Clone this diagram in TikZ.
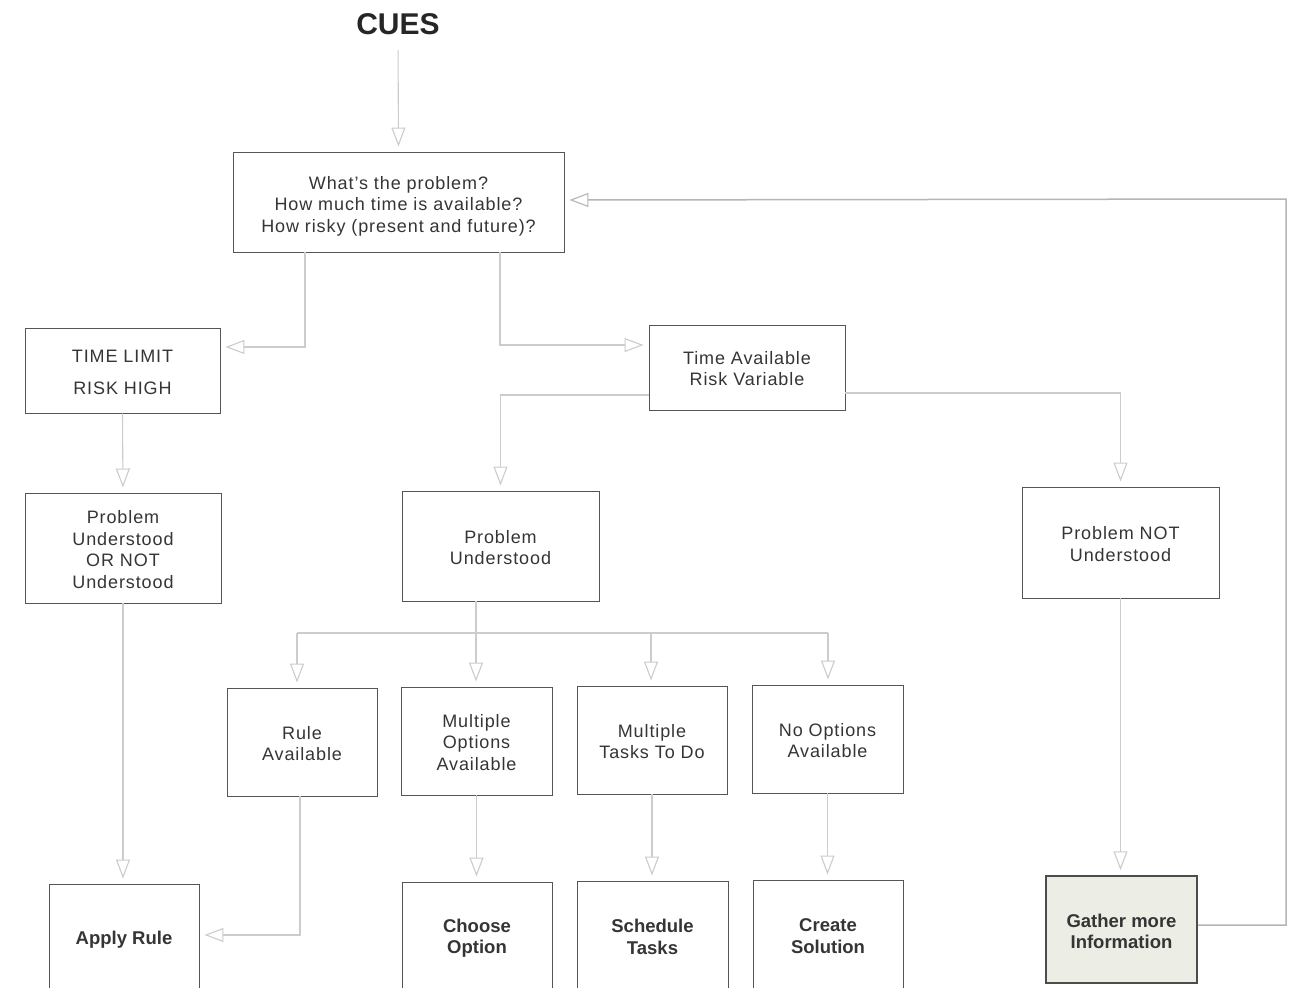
\documentclass[tikz,border=0pt]{standalone}
\usepackage{fontspec}
\setmainfont{Liberation Sans}[LetterSpace=5]
\newfontfamily\plainsans{Liberation Sans}
\usetikzlibrary{arrows.meta,calc}
\definecolor{boxc}{HTML}{555555}
\definecolor{txt}{HTML}{353535}
\definecolor{linec}{HTML}{CCCCCC}
\definecolor{loopc}{HTML}{B5B5B5}
\definecolor{gfill}{HTML}{ECEEE6}
\tikzset{
  box/.style={draw=boxc, line width=0.95pt, inner sep=0pt},
  btext/.style={text=txt, align=center, inner sep=0pt, yshift=-1.5pt,
    font=\fontsize{18}{21.5}\selectfont},
  bbtext/.style={btext, yshift=-0.5pt, font=\plainsans\bfseries\fontsize{18.5}{21.5}\selectfont},
  conn/.style={draw=linec, line width=1.1pt,
    -{Triangle[open, length=19pt, width=14pt, line width=1.1pt]}, shorten >=5pt},
  plainline/.style={draw=linec, line width=1.1pt},
}
\begin{document}
\begin{tikzpicture}[x=1pt,y=-1pt]
\useasboundingbox (0,0) rectangle (1291,988);
\clip (0,0) rectangle (1291,988);
\fill[white] (0,0) rectangle (1291,988);

\node[text=black!85, font=\plainsans\bfseries\fontsize{30}{32}\selectfont] (cues) at (398,24) {CUES};

\node[box, minimum width=331, minimum height=100,
  label={[btext, yshift=-2.5pt]center:{What’s the problem?\\How much time is available?\\How risky (present and future)?}}] (q) at (398.5,202) {};
\node[box, minimum width=195, minimum height=85,
  label={[btext]center:{TIME LIMIT\\[10.5pt]RISK HIGH}}] (tl) at (122.5,370.5) {};
\node[box, minimum width=196, minimum height=85,
  label={[btext, yshift=0.5pt]center:{Time Available\\Risk Variable}}] (ta) at (747,367.5) {};
\node[box, minimum width=196, minimum height=110,
  label={[btext]center:{Problem\\Understood\\OR NOT\\Understood}}] (pon) at (123,548) {};
\node[box, minimum width=197, minimum height=110,
  label={[btext]center:{Problem\\Understood}}] (pu) at (500.5,546) {};
\node[box, minimum width=197, minimum height=111,
  label={[btext]center:{Problem NOT\\Understood}}] (pnu) at (1120.5,542.5) {};
\node[box, minimum width=150, minimum height=108,
  label={[btext]center:{Rule\\Available}}] (ra) at (302,742) {};
\node[box, minimum width=151, minimum height=108,
  label={[btext]center:{Multiple\\Options\\Available}}] (moa) at (476.5,741) {};
\node[box, minimum width=150, minimum height=108,
  label={[btext]center:{Multiple\\Tasks To Do}}] (mttd) at (652,740) {};
\node[box, minimum width=151, minimum height=108,
  label={[btext]center:{No Options\\Available}}] (noa) at (827.5,739) {};
\node[box, minimum width=150, minimum height=108,
  label={[bbtext]center:{Apply Rule}}] (apply) at (124,938) {};
\node[box, minimum width=150, minimum height=108,
  label={[bbtext]center:{Choose\\Option}}] (choose) at (477,936) {};
\node[box, minimum width=151, minimum height=108,
  label={[bbtext]center:{Schedule\\Tasks}}] (sched) at (652.5,935) {};
\node[box, minimum width=150, minimum height=108,
  label={[bbtext]center:{Create\\Solution}}] (create) at (828,934) {};
\node[box, draw=black!70, fill=gfill, line width=1.5pt, minimum width=151, minimum height=107,
  label={[bbtext]center:{Gather more\\Information}}] (gather) at (1121.5,929.5) {};

% connectors
\draw[conn, shorten <=12pt] (cues.south) -- (q.north);
\draw[conn] (q.south -| 305,0) |- (tl.east |- 0,347);
\draw[conn] (q.south -| 500,0) |- (ta.west |- 0,345);
\draw[conn] (tl.south) -- (pon.north);
\draw[conn] (ta.west |- 0,395) -| (pu.north);
\draw[conn] (ta.east |- 0,393) -| (pnu.north);
\draw[conn] (pon.south) -- (pon.south |- apply.north);

\coordinate (bus) at (476,633);
\draw[plainline] (pu.south -| bus) -- (bus);
\draw[plainline] (bus -| 297,0) -- (bus -| 828,0);
\draw[conn] (bus -| 297,0) -- (ra.north -| 297,0);
\draw[conn] (bus) -- (moa.north -| bus);
\draw[conn] (bus -| 651,0) -- (mttd.north -| 651,0);
\draw[conn] (bus -| 828,0) -- (noa.north -| 828,0);

\draw[conn] (ra.south -| 300,0) |- (apply.east |- 0,935);
\draw[conn] (moa.south) -- (moa.south |- choose.north);
\draw[conn] (mttd.south) -- (mttd.south |- sched.north);
\draw[conn] (noa.south) -- (noa.south |- create.north);
\draw[conn, line width=1.4pt] (pnu.south) -- (pnu.south |- gather.north);

\draw[conn, draw=loopc, line width=1.5pt] (gather.east |- 0,925) -- (1286,925) -- (1286,199) -- (q.east |- 0,200);
\end{tikzpicture}
\end{document}
